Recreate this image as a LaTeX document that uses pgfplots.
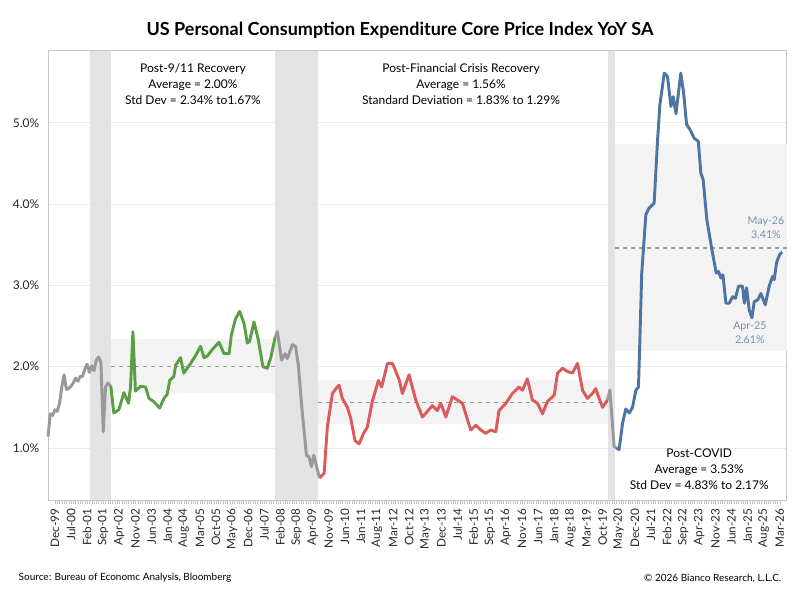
\documentclass[border=0pt]{standalone}
\usepackage{pgfplots}
\pgfplotsset{compat=1.18}
\usepackage{fontspec}
\setmainfont{Lato}
\definecolor{lgray}{HTML}{999999}
\definecolor{cgreen}{HTML}{5A9E45}
\definecolor{cred}{HTML}{D95B5B}
\definecolor{cblue}{HTML}{4D74A3}
\definecolor{lblue}{HTML}{7391BA}
\definecolor{band}{HTML}{F3F3F3}
\definecolor{recess}{HTML}{E3E3E3}
\begin{document}
\begin{tikzpicture}
\useasboundingbox (0pt,0pt) rectangle (600pt,-450pt);
\node[font=\bfseries\fontsize{13.5}{15}\selectfont] at (300pt,-22.5pt) {US Personal Consumption Expenditure Core Price Index YoY SA};
\node[anchor=west,font=\fontsize{7.5}{9}\selectfont] at (10.5pt,-433.5pt) {Source: Bureau of Economc Analysis, Bloomberg};
\node[anchor=east,font=\fontsize{7.5}{9}\selectfont] at (589.5pt,-433.5pt) {© 2026 Bianco Research, L.L.C.};
\begin{axis}[at={(36pt,-375pt)},anchor=south west,scale only axis,
 width=554pt,height=337pt,
 xmin=-3,xmax=318,ymin=0.36,ymax=5.886,
 axis line style={draw=black!22},
 axis x line*=bottom, axis y line*=left,
 ytick={1,2,3,4,5},
 yticklabel={\pgfmathprintnumber[fixed,fixed zerofill,precision=1]{\tick}\%},
 /pgf/number format/assume math mode=true,
 ymajorgrids, grid style={black!8},
 y tick style={draw=none},
 xtick={0,7,...,315},
 xticklabels={Dec-99,Jul-00,Feb-01,Sep-01,Apr-02,Nov-02,Jun-03,Jan-04,Aug-04,Mar-05,Oct-05,May-06,Dec-06,Jul-07,Feb-08,Sep-08,Apr-09,Nov-09,Jun-10,Jan-11,Aug-11,Mar-12,Oct-12,May-13,Dec-13,Jul-14,Feb-15,Sep-15,Apr-16,Nov-16,Jun-17,Jan-18,Aug-18,Mar-19,Oct-19,May-20,Dec-20,Jul-21,Feb-22,Sep-22,Apr-23,Nov-23,Jun-24,Jan-25,Aug-25,Mar-26},
 x tick label style={rotate=90,anchor=east,font=\fontsize{8.8}{9}\selectfont,text=black!85},
 y tick label style={font=\fontsize{9}{10}\selectfont,text=black!85},
 minor x tick num=6,
 x tick style={draw=black!25},
 major tick length=3pt, minor tick length=3pt,
 tick align=outside,
 xtick pos=bottom,
 clip=false,
]
\draw[black!22] (axis cs:-3,5.886) -- (axis cs:318,5.886) -- (axis cs:318,0.36);
\fill[recess] (axis cs:15.2,0.36) rectangle (axis cs:24.3,5.886);
\fill[recess] (axis cs:95.6,0.36) rectangle (axis cs:114.3,5.886);
\fill[recess] (axis cs:240.4,0.36) rectangle (axis cs:243.5,5.886);
\fill[band] (axis cs:24.3,1.67) rectangle (axis cs:95.6,2.34);
\fill[band] (axis cs:114.3,1.29) rectangle (axis cs:240.4,1.83);
\fill[band] (axis cs:243.5,2.19) rectangle (axis cs:318,4.74);
\draw[lgray,dashed,line width=1pt] (axis cs:24.3,2.00) -- (axis cs:95.6,2.00);
\draw[lgray,dashed,line width=1pt] (axis cs:114.3,1.56) -- (axis cs:240.4,1.56);
\draw[lgray,dashed,line width=1pt] (axis cs:243.5,3.46) -- (axis cs:318,3.46);
\addplot[lgray,line width=2.2pt,line join=round] coordinates {
(-3,1.14)(-2,1.42)(-1,1.40)(0,1.47)(1,1.45)(2,1.55)(3,1.75)(4,1.90)(5,1.72)(6,1.73)(7,1.76)(8,1.80)(9,1.86)(10,1.82)(11,1.88)(12,1.88)(13,1.97)(14,2.03)(15,1.93)(16,2.01)(17,1.95)(18,2.08)(19,2.12)(20,2.05)(21,1.20)(22,1.75)(23,1.80)(24.3,1.76)};
\addplot[cgreen,line width=2.2pt,line join=round] coordinates {
(24.3,1.76)(25.6,1.43)(27.8,1.47)(30,1.68)(32,1.55)(32.9,1.76)(33.9,2.43)(35,1.70)(37.3,1.76)(39.4,1.75)(40.9,1.61)(43,1.57)(45.5,1.49)(47.4,1.61)(48.8,1.66)(49.9,1.83)(51.7,1.88)(52.5,2.02)(54.6,2.11)(56,1.92)(59,2.04)(61.2,2.14)(63.3,2.25)(64.8,2.11)(66.2,2.13)(68.4,2.21)(71.3,2.30)(73.5,2.16)(75.7,2.16)(76.7,2.39)(78.5,2.59)(80.3,2.68)(82.2,2.53)(83.6,2.29)(84.6,2.31)(86.5,2.55)(88.4,2.33)(90.4,2.00)(92.3,1.98)(93.8,2.11)(95.7,2.36)};
\addplot[lgray,line width=2.2pt,line join=round] coordinates {
(95.7,2.36)(96.7,2.43)(98.5,2.08)(100,2.16)(101,2.10)(103.2,2.27)(104.6,2.25)(105.8,2.02)(107.2,1.53)(109.3,0.91)(110.4,0.89)(111.5,0.77)(112.5,0.91)(115,0.63)};
\addplot[cred,line width=2.2pt,line join=round] coordinates {
(115,0.63)(117,0.69)(118.4,1.26)(120.6,1.67)(122.7,1.75)(123.5,1.77)(124.9,1.61)(127.1,1.50)(128.6,1.36)(130.4,1.09)(132.2,1.05)(134.3,1.19)(135.7,1.25)(138,1.58)(140.6,1.83)(142,1.75)(144.5,2.04)(146.7,2.04)(149.6,1.84)(151,1.67)(153.9,1.90)(156.8,1.59)(159.7,1.38)(164,1.52)(166.2,1.46)(167.7,1.55)(169.9,1.38)(172.7,1.63)(174.9,1.59)(177.1,1.55)(180.7,1.22)(182.9,1.28)(185.1,1.22)(187.2,1.18)(189.4,1.22)(191.6,1.20)(193,1.46)(196,1.55)(198.8,1.67)(201.7,1.75)(203.2,1.71)(205.3,1.85)(207.5,1.59)(209.7,1.55)(211.9,1.42)(214,1.57)(217,1.65)(218.4,1.92)(220.6,1.98)(222.8,1.94)(224.9,1.92)(227.1,2.04)(229.3,1.71)(231.4,1.61)(233.6,1.67)(235,1.73)(236.5,1.61)(238,1.50)(240.1,1.59)};
\addplot[lgray,line width=2.2pt,line join=round] coordinates {
(240.1,1.59)(241.2,1.71)(243,1.02)(244,1.00)};
\addplot[cblue,line width=2.2pt,line join=round] coordinates {
(244,1.00)(245.2,0.98)(246.7,1.31)(248.1,1.48)(249.6,1.43)(251,1.50)(252.5,1.71)(253.6,1.75)(254.2,2.32)(255,3.14)(256.8,3.87)(258.2,3.95)(260.4,4.01)(261.9,4.79)(262.9,5.22)(264.8,5.61)(266.2,5.57)(267.7,5.20)(268.7,5.32)(269.9,5.11)(272,5.61)(273.2,5.37)(274.5,4.98)(275.9,4.92)(277.8,4.81)(279.6,4.77)(280.7,4.38)(281.7,4.30)(283.3,3.81)(285.5,3.44)(287.4,3.15)(288.4,3.17)(289.4,3.09)(290.3,3.13)(291.6,2.78)(293,2.78)(294.5,2.86)(295.7,2.84)(297.1,2.99)(298.8,2.99)(299.6,2.78)(300.6,2.97)(301.7,2.70)(302.9,2.60)(303.9,2.80)(305.4,2.82)(306.8,2.90)(308.7,2.76)(310.4,2.99)(311.9,3.11)(312.6,3.07)(313.6,3.28)(315,3.38)(316,3.41)};
\node[align=center,font=\fontsize{9}{12}\selectfont] at (axis cs:60,5.47) {Post-9/11 Recovery\\Average = 2.00\%\\Std Dev = 2.34\% to1.67\%};
\node[align=center,font=\fontsize{9}{12}\selectfont] at (axis cs:176.5,5.47) {Post-Financial Crisis Recovery\\Average = 1.56\%\\Standard Deviation = 1.83\% to 1.29\%};
\node[align=center,font=\fontsize{9}{12}\selectfont] at (axis cs:280,0.74) {Post-COVID\\Average = 3.53\%\\Std Dev = 4.83\% to 2.17\%};
\node[align=center,text=lblue,font=\fontsize{8}{10.5}\selectfont] at (axis cs:309,3.71) {May-26\\3.41\%};
\node[align=center,text=lblue,font=\fontsize{8}{10.5}\selectfont] at (axis cs:302,2.42) {Apr-25\\2.61\%};
\end{axis}
\end{tikzpicture}
\end{document}
